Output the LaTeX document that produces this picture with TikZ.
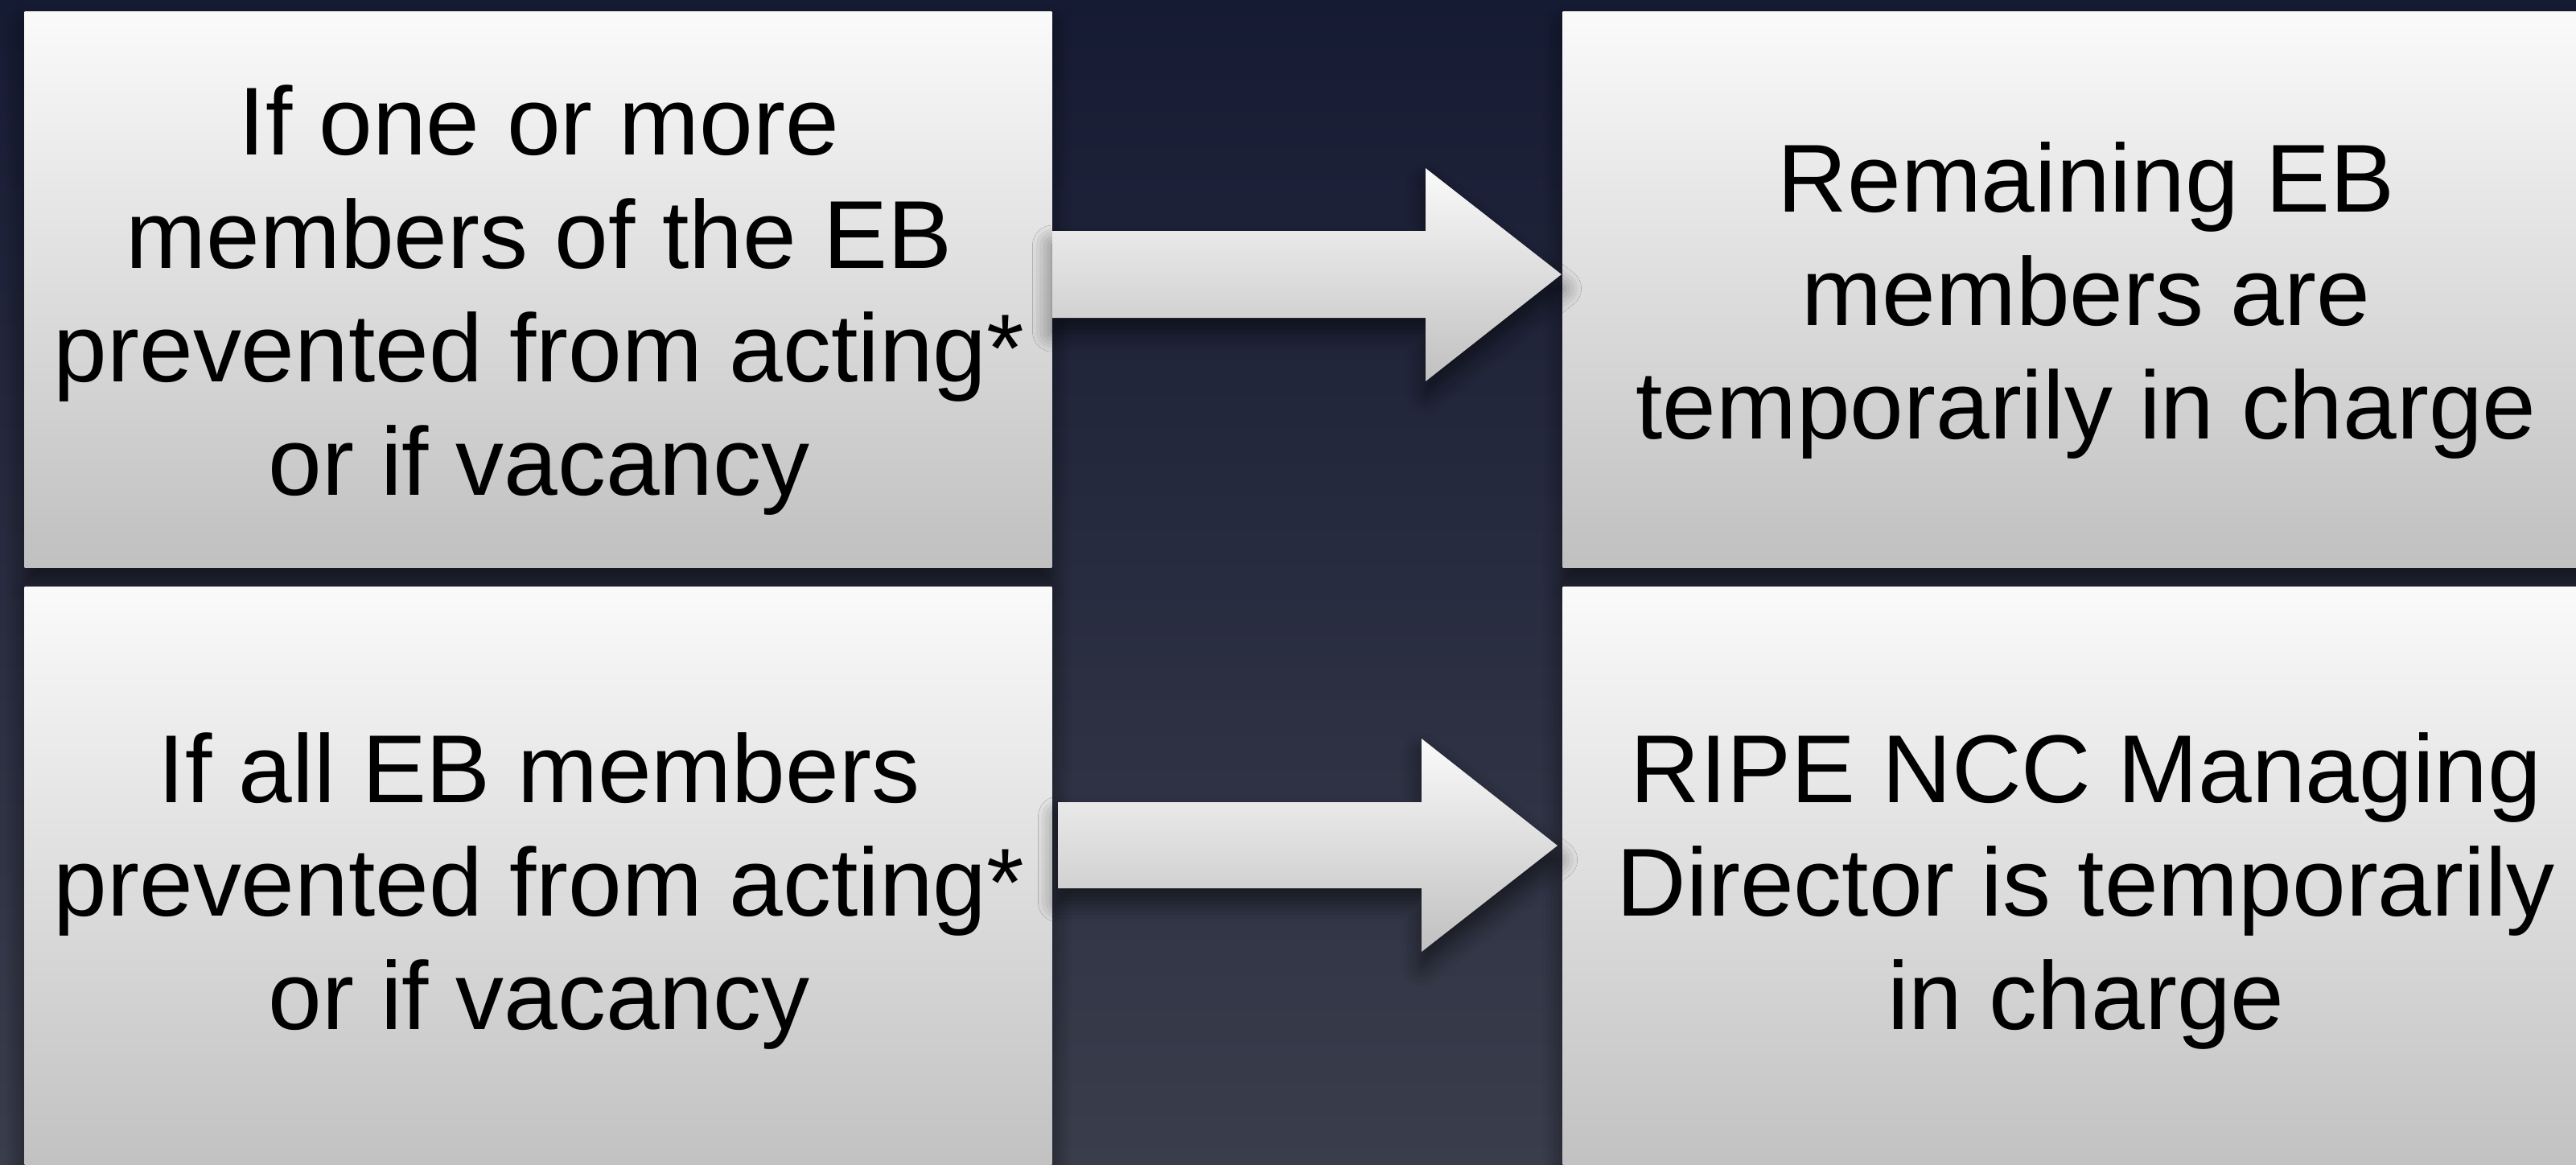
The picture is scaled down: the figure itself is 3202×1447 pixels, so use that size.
\documentclass[tikz,border=0pt]{standalone}
\usepackage{fontspec}
\setmainfont{Liberation Sans}
\usetikzlibrary{calc,shadows.blur}
\definecolor{bgtop}{RGB}{22,27,52}
\definecolor{bgbot}{RGB}{58,61,75}
\definecolor{boxtop}{RGB}{250,250,250}
\definecolor{boxbot}{RGB}{192,192,192}
\definecolor{arrtop}{RGB}{250,250,250}
\definecolor{arrbot}{RGB}{192,192,192}
\begin{document}
\begin{tikzpicture}[x=0.01cm,y=-0.01cm,
  softshadow/.style={blur shadow={shadow xshift=0pt,shadow yshift=-5pt,shadow blur steps=6,shadow opacity=55,shadow blur radius=7pt}},
  panel/.style={shape=rectangle,inner sep=0pt,top color=boxtop,bottom color=boxbot,softshadow},
  paneltext/.style={align=center,text=black,inner sep=0pt,font=\fontsize{34.1}{40.1}\selectfont},
  blockarrow/.style={top color=arrtop,bottom color=arrbot,softshadow}]
\useasboundingbox (0,0) rectangle (3202,1447);
\fill[top color=bgtop,bottom color=bgbot] (0,0) rectangle (3202,1447);
\clip (0,0) rectangle (3202,1447);

\node[panel,minimum width=12.76cm,minimum height=6.91cm] (ltop) at (669,360) {};
\node[panel,minimum width=12.94cm,minimum height=6.91cm] (rtop) at (2590,360) {};
\node[panel,minimum width=12.76cm,minimum height=7.38cm] (lbot) at (669,1099) {};
\node[panel,minimum width=12.94cm,minimum height=7.38cm] (rbot) at (2590,1099) {};

\node[paneltext] (ltopt) at ($(ltop.center)+(1,13)$)
  {If one or more\\members of the EB\\prevented from acting*\\or if vacancy};
\node[paneltext] (rtopt) at ($(rtop.center)+(3,13)$)
  {Remaining EB\\members are\\temporarily in charge};
\node[paneltext] (lbott) at ($(lbot.center)+(1,8)$)
  {If all EB members\\prevented from acting*\\or if vacancy};
\node[paneltext] (rbott) at ($(rbot.center)+(3,8)$)
  {RIPE NCC Managing\\Director is temporarily\\in charge};

\coordinate (t1) at ($(rtop.west)+(-1,-19)$);
\path[blockarrow] (ltop.east |- 0,287) -- (1772,287) -- (1772,209) -- (t1)
  -- (1772,474) -- (1772,395) -- (ltop.east |- 0,395) -- cycle;

\coordinate (t2) at ($(rbot.west)+(-6,-48)$);
\coordinate (s2) at ($(lbot.east)+(7,0)$);
\path[blockarrow] (s2 |- 0,997) -- (1767,997) -- (1767,918) -- (t2)
  -- (1767,1183) -- (1767,1104) -- (s2 |- 0,1104) -- cycle;
\end{tikzpicture}
\end{document}
